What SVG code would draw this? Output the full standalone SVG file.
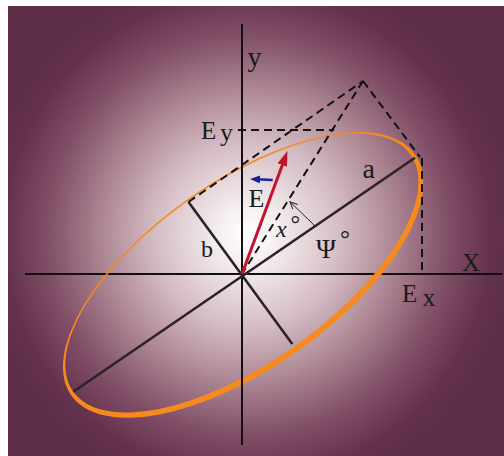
<svg xmlns="http://www.w3.org/2000/svg" width="504" height="456" viewBox="0 0 504 456">
<style>
.axis{stroke:#111;stroke-width:2;fill:none}
.semi{stroke:#2b2328;stroke-width:2.6;fill:none}
.dash{stroke:#111;stroke-width:2;stroke-dasharray:8 5;fill:none}
.lbl{font-family:"Liberation Serif","Times New Roman",serif;fill:#1a1a1a}
</style>
<defs>
<radialGradient id="bg" gradientUnits="userSpaceOnUse" cx="248" cy="235" r="270">
<stop offset="0" stop-color="#ffffff"/>
<stop offset="0.1" stop-color="#f6f0f1"/>
<stop offset="0.35" stop-color="#d3bbc2"/>
<stop offset="0.55" stop-color="#ab8492"/>
<stop offset="0.75" stop-color="#7f4d65"/>
<stop offset="0.9" stop-color="#64324c"/>
<stop offset="1" stop-color="#5e2d46"/>
</radialGradient>
<marker id="redHead" markerUnits="userSpaceOnUse" markerWidth="16" markerHeight="10" refX="5" refY="5" orient="auto">
<path d="M0,0 L15,5 L0,10 Z" fill="#c3122c"/>
</marker>
<marker id="blueHead" markerUnits="userSpaceOnUse" markerWidth="11" markerHeight="8" refX="3" refY="4" orient="auto">
<path d="M0,0 L10,4 L0,8 Z" fill="#1a2296"/>
</marker>
<marker id="thinHead" markerUnits="userSpaceOnUse" markerWidth="9" markerHeight="8" refX="7.5" refY="3.5" orient="auto">
<path d="M0,0 L7.5,3.5 L0,7" fill="none" stroke="#222" stroke-width="1"/>
</marker>
</defs>
<rect x="0" y="0" width="504" height="456" fill="#ffffff"/>
<rect x="8" y="6" width="496" height="450" fill="url(#bg)"/>

<g id="x-axis">
<line class="axis" x1="25" y1="274" x2="502" y2="274"/>
</g>

<g id="ellipse">
<path transform="translate(242.5,274) rotate(-35)" fill="#f68a1e" fill-rule="evenodd"
d="M-209.9,1.1 A209.9 93.9 0 1 0 209.9 1.1 A209.9 93.9 0 1 0 -209.9 1.1 Z M-206.1,-1.1 A206.1 90.1 0 1 0 206.1 -1.1 A206.1 90.1 0 1 0 -206.1 -1.1 Z"/>
</g>

<g id="y-axis">
<line class="axis" x1="242" y1="24" x2="242" y2="445"/>
</g>

<g id="semi-axes">
<line class="semi" x1="73.3" y1="391.7" x2="415" y2="157.7"/>
<line class="semi" x1="188.5" y1="202" x2="292.3" y2="344"/>
</g>

<g id="connectors">
<line class="dash" x1="238" y1="130" x2="334" y2="130"/>
<line class="dash" x1="188.5" y1="202" x2="363" y2="81"/>
<line class="dash" x1="363" y1="81" x2="420" y2="157"/>
<line class="dash" x1="363" y1="81" x2="242" y2="274"/>
<line class="dash" x1="422" y1="158" x2="422" y2="274"/>
<line x1="242" y1="274" x2="284" y2="160.4" stroke="#c3122c" stroke-width="3" marker-end="url(#redHead)"/>
<line x1="272.7" y1="180" x2="257" y2="179.3" stroke="#1a2296" stroke-width="2.5" marker-end="url(#blueHead)"/>
<line x1="315" y1="226" x2="290" y2="201.7" stroke="#222" stroke-width="1" marker-end="url(#thinHead)"/>
</g>

<g id="labels">
<text class="lbl" x="247.5" y="65.5" font-size="28">y</text>
<text class="lbl" x="201" y="139" font-size="25">E<tspan x="220" y="141" font-size="26">y</tspan></text>
<text class="lbl" x="462" y="270.7" font-size="25">X</text>
<text class="lbl" x="402" y="301.7" font-size="25">E<tspan x="422.5" y="306" font-size="26">x</tspan></text>
<text class="lbl" x="248.5" y="206.7" font-size="26">E</text>
<text class="lbl" x="362.5" y="178" font-size="28">a</text>
<text class="lbl" x="201" y="256.7" font-size="24">b</text>
<text class="lbl" x="276" y="237.3" font-size="24" font-style="italic">x<tspan x="290.5" y="232" font-style="normal">°</tspan></text>
<text class="lbl" x="316" y="258.3" font-size="27">Ψ<tspan x="340" y="247" font-size="25">°</tspan></text>
</g>
</svg>
